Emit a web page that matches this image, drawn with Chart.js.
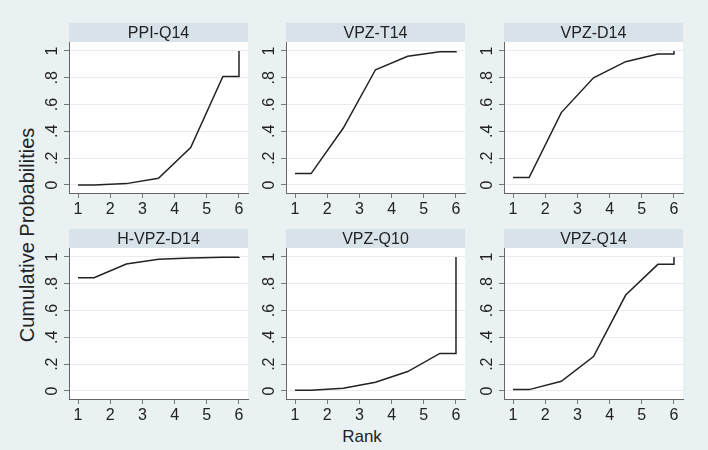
<!DOCTYPE html>
<html>
<head>
<meta charset="utf-8">
<script src="https://cdn.jsdelivr.net/npm/chart.js@4.4.1/dist/chart.umd.min.js"></script>
<style>
  html, body { margin: 0; padding: 0; }
  body {
    width: 708px; height: 450px; position: relative; overflow: hidden;
    background: #eaf1f3;
    font-family: "Liberation Sans", Arial, sans-serif; color: #222;
  }
  canvas { position: absolute; }
  .ytitle {
    position: absolute; left: 27px; top: 235px; white-space: nowrap;
    transform: translate(-50%, -50%) rotate(-90deg); font-size: 20px;
  }
  .xtitle {
    position: absolute; left: 362px; top: 437px;
    transform: translate(-50%, -50%); font-size: 17px;
  }
</style>
</head>
<body>
<div class="ytitle">Cumulative Probabilities</div>
<div class="xtitle">Rank</div>
<script>
// ranks and cumulative rank probabilities
var ranks = [1, 2, 3, 4, 5, 6];
var panelNames = ['PPI-Q14', 'VPZ-T14', 'VPZ-D14', 'H-VPZ-D14', 'VPZ-Q10', 'VPZ-Q14'];
var ppiQ14  = [0.00, 0.01, 0.05, 0.28, 0.81, 1.00];
var vpzT14  = [0.085, 0.425, 0.86, 0.96, 0.995, 1.00];
var vpzD14  = [0.055, 0.54, 0.80, 0.92, 0.978, 1.00];
var hVpzD14 = [0.845, 0.948, 0.983, 0.993, 0.998, 1.00];
var vpzQ10  = [0.005, 0.02, 0.065, 0.145, 0.28, 1.00];
var vpzQ14  = [0.01, 0.072, 0.257, 0.716, 0.945, 1.00];
var panelValues = [ppiQ14, vpzT14, vpzD14, hVpzD14, vpzQ10, vpzQ14];
var yTickValues = [0, 0.2, 0.4, 0.6, 0.8, 1];
var yTickLabels = ['0', '.2', '.4', '.6', '.8', '1'];

// panel geometry
var colLeft = [69, 286, 504];
var rowTop = [23, 229];
var stripH = 19, plotW = 179, plotH = 151, axisW = 40, axisH = 28, padR = 4;

Chart.defaults.font.family = '"Liberation Sans", Arial, sans-serif';
Chart.defaults.font.size = 16;
Chart.defaults.color = '#222';

// stata style step: flat to the first midpoint, midpoints joined, flat to the last rank, then up
function stepPoints(vals) {
    var n = ranks.length;
    var pts = [{ x: ranks[0], y: vals[0] }];
    for (var i = 0; i < n - 1; i++) pts.push({ x: ranks[i] + 0.5, y: vals[i] });
    pts.push({ x: ranks[n - 1], y: vals[n - 2] });
    pts.push({ x: ranks[n - 1], y: vals[n - 1] });
    return pts;
}

var stripPlugin = {
    id: 'strip',
    beforeDraw: function (chart, args, opts) {
        var a = chart.chartArea, ctx = chart.ctx;
        ctx.save();
        ctx.fillStyle = '#ffffff';
        ctx.fillRect(a.left, a.top, a.right - a.left, a.bottom - a.top);
        ctx.fillStyle = '#d7e3e9';
        ctx.fillRect(a.left, a.top - stripH, a.right - a.left, stripH);
        ctx.fillStyle = '#222';
        ctx.font = '16px "Liberation Sans", Arial, sans-serif';
        ctx.textAlign = 'center';
        ctx.textBaseline = 'middle';
        ctx.fillText(opts.text, (a.left + a.right) / 2, a.top - stripH / 2 + 1);
        ctx.restore();
    }
};

panelValues.forEach(function (vals, i) {
    var col = i % 3, row = Math.floor(i / 3);
    var cv = document.createElement('canvas');
    var w = axisW + plotW + padR, h = stripH + plotH + axisH;
    cv.width = w; cv.height = h;
    cv.style.left = (colLeft[col] - axisW) + 'px';
    cv.style.top = rowTop[row] + 'px';
    cv.style.width = w + 'px';
    cv.style.height = h + 'px';
    document.body.appendChild(cv);

    new Chart(cv, {
        type: 'line',
        data: {
            datasets: [{
                data: stepPoints(vals),
                borderColor: '#222222',
                borderWidth: 1.5,
                pointRadius: 0,
                tension: 0,
                fill: false,
                clip: false
            }]
        },
        options: {
            responsive: false,
            animation: false,
            layout: { padding: { top: stripH, right: padR, left: 0, bottom: 0 } },
            plugins: {
                legend: { display: false },
                tooltip: { enabled: false },
                strip: { text: panelNames[i] }
            },
            scales: {
                x: {
                    type: 'linear',
                    min: 0.72,
                    max: 6.28,
                    afterBuildTicks: function (s) { s.ticks = ranks.map(function (v) { return { value: v }; }); },
                    afterFit: function (s) { s.height = axisH; },
                    ticks: { maxRotation: 0, autoSkip: false, padding: 2, color: '#222',
                        callback: function (v) { return String(v); } },
                    grid: { drawOnChartArea: false, drawTicks: true, tickLength: 5, tickColor: '#777' },
                    border: { color: '#666', width: 1 }
                },
                y: {
                    type: 'linear',
                    min: -0.06,
                    max: 1.067,
                    afterBuildTicks: function (s) { s.ticks = yTickValues.map(function (v) { return { value: v }; }); },
                    afterFit: function (s) { s.width = axisW; },
                    ticks: { minRotation: 90, maxRotation: 90, crossAlign: 'center', padding: 5,
                        autoSkip: false, color: '#222',
                        callback: function (v) {
                            var k = yTickValues.indexOf(v);
                            return k >= 0 ? yTickLabels[k] : '';
                        } },
                    grid: { color: '#e6edf0', lineWidth: 1, tickLength: 5, tickColor: '#777' },
                    border: { color: '#666', width: 1 }
                }
            }
        },
        plugins: [stripPlugin]
    });
});
</script>
</body>
</html>
